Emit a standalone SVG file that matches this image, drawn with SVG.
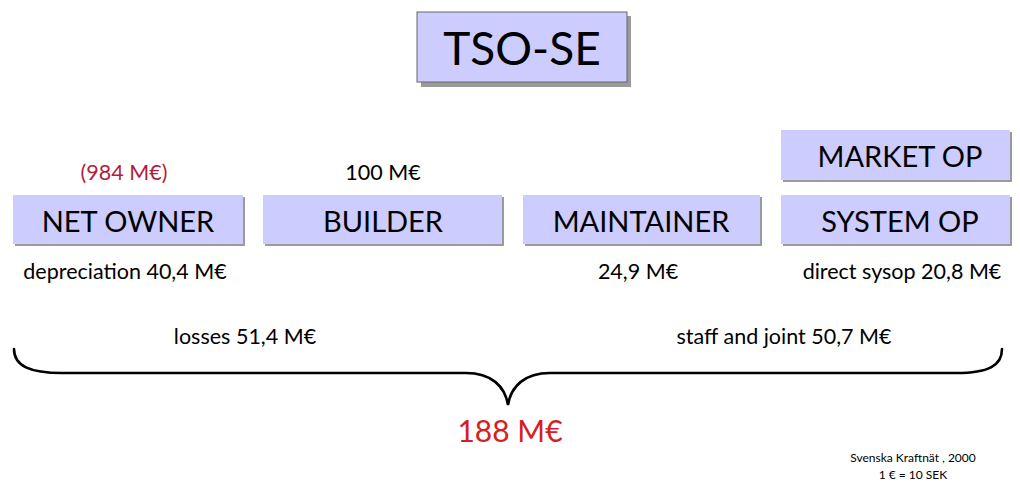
<svg xmlns="http://www.w3.org/2000/svg" width="1020" height="483" viewBox="0 0 1020 483">
  <style>
    text { font-family: Lato, "Open Sans", "Liberation Sans", sans-serif; text-anchor: middle; fill: #000; }
    .box { fill: #ccccff; }
    .shadow { fill: #9a9a9a; }
    .role { font-size: 29px; }
    .val { font-size: 21.5px; }
    .red { fill: #b01e3c; }
    .total { fill: #d42020; font-size: 30px; }
    .note { font-size: 12px; }
    .brace { fill: none; stroke: #000; stroke-width: 2.6; stroke-linecap: round; }
  </style>

  <g id="title">
    <rect class="shadow" x="421" y="16" width="210" height="71"/>
    <rect class="box" x="417" y="12" width="210" height="70" stroke="#666" stroke-width="1"/>
    <text x="522" y="65" style="font-size:46px">TSO-SE</text>
  </g>

  <g id="net-owner">
    <text class="val red" x="124" y="180">(984 M€)</text>
    <rect class="shadow" x="15" y="197" width="230" height="49"/>
    <rect class="box" x="13" y="195" width="230" height="49"/>
    <text class="role" x="128" y="232">NET OWNER</text>
    <text class="val" x="125" y="279">depreciation 40,4 M€</text>
  </g>

  <g id="builder">
    <text class="val" x="383" y="180">100 M€</text>
    <rect class="shadow" x="265" y="197" width="239" height="49"/>
    <rect class="box" x="263" y="195" width="239" height="49"/>
    <text class="role" x="383" y="232">BUILDER</text>
  </g>

  <g id="maintainer">
    <rect class="shadow" x="525" y="197" width="237" height="49"/>
    <rect class="box" x="523" y="195" width="237" height="49"/>
    <text class="role" x="641" y="232">MAINTAINER</text>
    <text class="val" x="638" y="279">24,9 M€</text>
  </g>

  <g id="market-op">
    <rect class="shadow" x="783" y="132" width="229" height="50"/>
    <rect class="box" x="781" y="130" width="229" height="50"/>
    <text class="role" x="900" y="167">MARKET OP</text>
  </g>

  <g id="system-op">
    <rect class="shadow" x="783" y="197" width="229" height="49"/>
    <rect class="box" x="781" y="195" width="229" height="49"/>
    <text class="role" x="900" y="232">SYSTEM OP</text>
    <text class="val" x="902" y="279">direct sysop 20,8 M€</text>
  </g>

  <g id="connectors">
    <path class="brace" d="M14,349 C14,366 30,373 62,373 L466,373 C491,373 505,386 508,405 C511,386 525,373 550,373 L956,373 C988,373 1002,366 1002,349"/>
  </g>

  <g id="totals">
    <text class="val" x="245" y="344">losses 51,4 M€</text>
    <text class="val" x="784" y="344">staff and joint 50,7 M€</text>
    <text class="total" x="510" y="442">188 M€</text>
  </g>

  <g id="source">
    <text class="note" x="913" y="462">Svenska Kraftnät , 2000</text>
    <text class="note" x="913" y="479">1 € = 10 SEK</text>
  </g>
</svg>
